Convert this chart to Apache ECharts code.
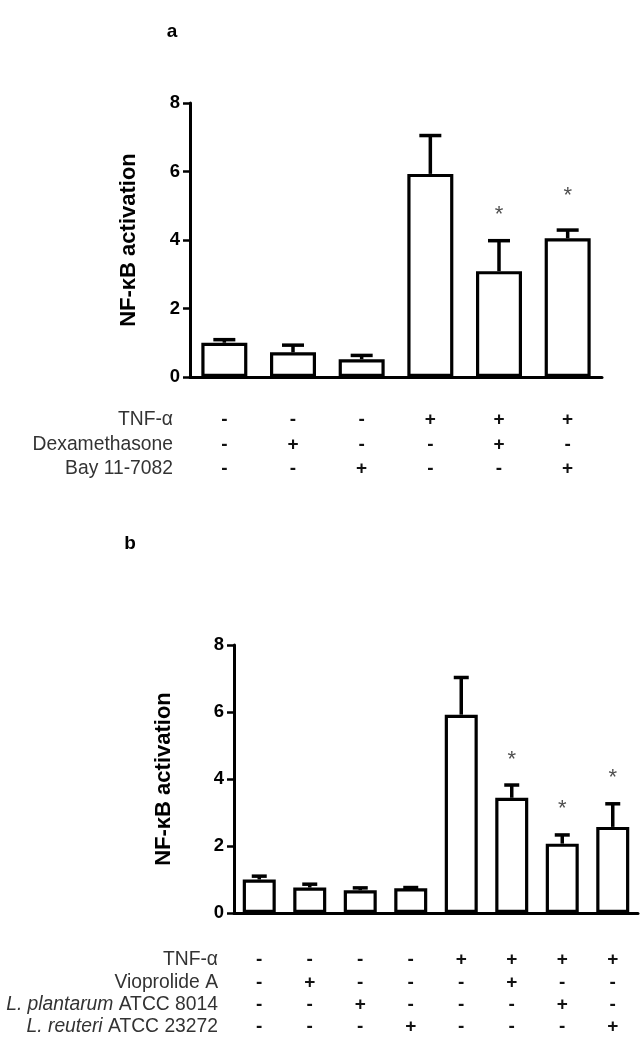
<!DOCTYPE html>
<html>
<head>
<meta charset="utf-8">
<script src="https://cdn.jsdelivr.net/npm/echarts@6/dist/echarts.min.js"></script>
<style>
html,body{margin:0;padding:0;background:#fff;}
#c{width:641px;height:1043px;}
</style>
</head>
<body>
<div id="c"></div>
<script>
// ---------- Panel a data ----------
const tnfA = ['-','-','-','+','+','+'];
const dexA = ['-','+','-','-','+','-'];
const bayA = ['-','-','+','-','-','+'];
const meanA = [1.0, 0.72, 0.52, 5.93, 3.09, 4.05];
const errA  = [1.09, 0.93, 0.63, 7.05, 3.98, 4.29];
const starA = [null, null, null, null, 4.88, 5.43];
const rowLabelsA = ['TNF-α', 'Dexamethasone', 'Bay 11-7082'];

// ---------- Panel b data ----------
const tnfB = ['-','-','-','-','+','+','+','+'];
const vioB = ['-','+','-','-','-','+','-','-'];
const lplB = ['-','-','+','-','-','-','+','-'];
const lreB = ['-','-','-','+','-','-','-','+'];
const meanB = [1.0, 0.76, 0.68, 0.74, 5.92, 3.44, 2.07, 2.57];
const errB  = [1.1, 0.86, 0.75, 0.76, 7.03, 3.82, 2.33, 3.26];
const starB = [null, null, null, null, null, 4.71, 3.26, 4.19];
const rowLabelsB = ['TNF-α', 'Vioprolide A', '{i|L. plantarum} ATCC 8014', '{i|L. reuteri} ATCC 23272'];

const yTicks = [0, 2, 4, 6, 8];
const yTitle = 'NF-κB activation';

const FONT = '"Liberation Sans", Arial, sans-serif';

const catsA = tnfA.map((_, i) => [tnfA[i], dexA[i], bayA[i]].join('\n'));
const catsB = tnfB.map((_, i) => [tnfB[i], vioB[i], lplB[i], lreB[i]].join('\n'));

function errSeries(grid, means, errs, capHalf) {
  return {
    type: 'custom', xAxisIndex: grid, yAxisIndex: grid, z: 1,
    data: means.map((m, i) => [i, m, errs[i]]),
    renderItem: function (params, api) {
      const p0 = api.coord([api.value(0), api.value(1)]);
      const p1 = api.coord([api.value(0), api.value(2)]);
      return {
        type: 'group',
        children: [
          {type: 'line', shape: {x1: p0[0], y1: p0[1], x2: p1[0], y2: p1[1]},
           style: {stroke: '#000', lineWidth: 3.5}},
          {type: 'line', shape: {x1: p1[0] - capHalf, y1: p1[1], x2: p1[0] + capHalf, y2: p1[1]},
           style: {stroke: '#000', lineWidth: 3.5}}
        ]
      };
    }
  };
}
function starSeries(grid, stars) {
  const d = [];
  stars.forEach((s, i) => { if (s != null) d.push([i, s]); });
  return {
    type: 'scatter', xAxisIndex: grid, yAxisIndex: grid, symbolSize: 1,
    itemStyle: {color: 'rgba(0,0,0,0)'},
    data: d,
    label: {show: true, position: 'inside', formatter: '*', fontSize: 22,
            fontFamily: FONT, color: '#222', offset: [0, 5]}
  };
}
function barSeries(grid, means, bw) {
  return {
    type: 'bar', xAxisIndex: grid, yAxisIndex: grid, barWidth: bw, z: 2,
    data: means,
    itemStyle: {color: '#fff', borderColor: '#000', borderWidth: 3.2}
  };
}
function xAxisCfg(grid, cats, lh, margin) {
  return {
    type: 'category', gridIndex: grid, data: cats,
    axisLine: {lineStyle: {color: '#000', width: 3}},
    axisTick: {alignWithLabel: true, length: 7, lineStyle: {color: '#000', width: 2}},
    axisLabel: {color: '#111', fontSize: 19, fontWeight: 'bold', fontFamily: FONT, lineHeight: lh,
                margin: margin, interval: 0}
  };
}
function yAxisCfg(grid, nameGap) {
  return {
    type: 'value', gridIndex: grid, min: yTicks[0], max: yTicks[yTicks.length - 1], interval: 2,
    name: yTitle, nameLocation: 'middle', nameGap: nameGap,
    nameTextStyle: {fontSize: 22, fontWeight: 'bold', fontFamily: FONT, color: '#000'},
    axisLine: {show: true, lineStyle: {color: '#000', width: 3}},
    axisTick: {show: true, length: 7, lineStyle: {color: '#000', width: 2.5}},
    axisLabel: {color: '#000', fontSize: 18.5, fontWeight: 'bold', fontFamily: FONT, margin: 10},
    splitLine: {show: false}
  };
}
function rowText(labels, xRight, y0, dy) {
  return labels.map((t, i) => ({
    type: 'text', x: xRight, y: y0 + i * dy,
    style: {text: t, align: 'right', verticalAlign: 'middle', fontSize: 19.3,
            fontFamily: FONT, fill: '#333',
            rich: {i: {fontStyle: 'italic', fontSize: 19.3, fontFamily: FONT, fill: '#333'}}}
  }));
}

const chart = echarts.init(document.getElementById('c'), null, {renderer: 'canvas'});
chart.setOption({
  animation: false,
  backgroundColor: '#fff',
  grid: [
    {left: 190, right: 39, top: 103, bottom: 666},
    {left: 234, right: 3, top: 645, bottom: 130}
  ],
  xAxis: [xAxisCfg(0, catsA, 24.5, 31), xAxisCfg(1, catsB, 22.3, 36)],
  yAxis: [yAxisCfg(0, 50), yAxisCfg(1, 59)],
  series: [
    barSeries(0, meanA, 46), errSeries(0, meanA, errA, 11), starSeries(0, starA),
    barSeries(1, meanB, 33), errSeries(1, meanB, errB, 7.5), starSeries(1, starB)
  ],
  graphic: [
    {type: 'text', x: 172, y: 32, style: {text: 'a', align: 'center', verticalAlign: 'middle',
      fontSize: 19, fontWeight: 'bold', fontFamily: FONT, fill: '#000'}},
    {type: 'text', x: 130, y: 544, style: {text: 'b', align: 'center', verticalAlign: 'middle',
      fontSize: 19, fontWeight: 'bold', fontFamily: FONT, fill: '#000'}}
  ].concat(rowText(rowLabelsA, 173, 420, 24.5)).concat(rowText(rowLabelsB, 218, 960, 22.3))
});
</script>
</body>
</html>
